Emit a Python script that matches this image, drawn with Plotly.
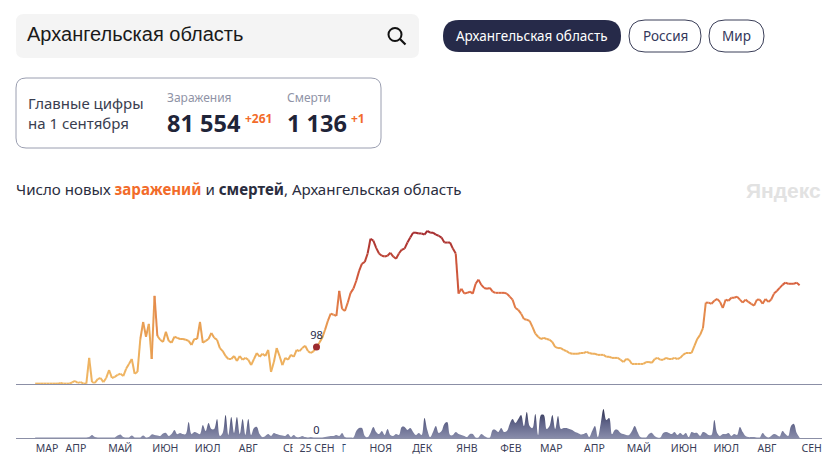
import pandas as pd
import plotly.graph_objects as go
from plotly.colors import sample_colorscale

START_DATE = "2020-03-11"
STEP_DAYS = 2

new_cases = [
    1,1,1,1,1,1,1,1,1,3,1,1,1,4,8,3,5,1,1,69,5,3,13,16,5,16,37,16,19,24,27,21,40,53,66,27,32,119,164,125,
    159,66,233,127,117,111,138,114,109,125,122,119,119,117,114,103,119,119,164,109,114,119,135,122,117,95,87,74,66,66,
    74,61,74,64,69,64,50,66,82,72,80,74,90,32,58,95,74,50,69,64,77,72,90,
    87,95,101,87,82,87,98,109,122,143,167,186,183,180,246,199,193,215,241,252,273,299,318,323,345,384,379,360,345,339,
    337,339,347,337,331,345,355,358,374,387,400,400,398,398,395,405,400,400,395,392,387,374,374,374,358,345,239,252,239,241,
    244,239,265,276,262,254,252,254,244,241,241,241,241,239,231,223,201,196,186,172,170,167,151,133,125,119,122,119,117,111,
    98,95,
    95,90,87,82,80,80,80,82,82,85,82,80,80,77,77,77,72,72,69,69,69,64,58,66,64,53,53,53,53,53,
    58,58,56,66,69,64,64,69,66,66,69,66,69,77,82,82,82,101,119,130,148,215,215,212,220,225,217,201,223,220,
    228,228,231,223,215,223,217,212,207,223,223,212,225,217,223,239,246,254,262,268,265,265,265,268,261,
]

new_deaths = [
    .2,.2,.2,.2,.2,.2,.2,.2,.2,.2,.2,.2,.2,.2,.2,.2,.2,.2,.2,.3,1,.3,.2,.2,.2,.2,.2,.2,.2,.8,
    1.2,.3,.2,.2,.8,.2,.2,.2,.8,.2,.3,1.2,1,.8,.7,1.5,1.7,.7,1.3,2.7,1.3,1.7,1.3,1.3,5.3,1.3,2,1.7,1.3,4.3,
    2.3,5,3,3,6.3,.7,1.7,7.7,1,7,1.7,7,1.3,6.3,1,6.3,1,3.3,3.7,1.3,.3,.7,1.3,.7,1.7,1.3,1,.8,.7,1.3,
    .3,1,.3,
    .3,.7,.3,.2,.3,.2,.2,.2,.2,.3,.5,.7,.7,1,.7,1.7,.3,.2,.2,.2,2.3,3.3,3.3,.7,.3,1.7,3.7,2,1.3,2.3,
    1,3,1,.7,1.3,1,3.7,3.7,2.7,3.3,2,1,1.7,1,6.7,2.7,.3,2,4,1.7,2.3,4.7,5.3,1,1,2,1.3,1,.7,.3,
    1.3,1.3,.2,.2,1.3,.7,.2,.2,2.7,2.7,2,3.3,2,2.3,4.7,6.3,5,6.3,7.7,4,8.7,4,3.3,8,1,7.7,7.7,3,
    4,7.7,3,7.3,
    3,3.3,3.3,3,2.7,2,1.7,1.2,1.3,1.7,.3,2.3,4,.3,4.7,9.7,6,6.7,1.3,2.7,2.7,1.7,1.3,1,1,2.3,4,2,.3,.2,
    .2,1.3,1.7,.7,.2,.2,1.7,2,1.7,1.3,2,1,1.7,1,1.7,.3,2,1.7,1.7,.7,2,1.7,1,1,6,1.7,.7,1.3,1.3,1.7,
    .7,1.3,1,3.7,2,.7,.3,.3,.3,.2,.2,1.7,.7,.2,.7,1.3,1,.5,2.3,1.3,.7,4,4.7,1.7,.2,
]

tick_dates = ["2020-03-11","2020-04-01","2020-05-01","2020-06-01","2020-07-01","2020-08-01","2020-09-01",
              "2020-10-01","2020-11-01","2020-12-01","2021-01-01","2021-02-01","2021-03-01","2021-04-01",
              "2021-05-01","2021-06-01","2021-07-01","2021-08-01","2021-09-01"]
tick_labels = ["МАР","АПР","МАЙ","ИЮН","ИЮЛ","АВГ","СЕН","ОКТ","НОЯ","ДЕК","ЯНВ","ФЕВ","МАР","АПР",
               "МАЙ","ИЮН","ИЮЛ","АВГ","СЕН"]
highlight_date = "2020-09-25"
highlight_label = "25 СЕН"

W, H = 835, 469
DARK = "#262a49"
ORANGE = "#f26b2a"
FONT = "Noto Sans"
SCALE = [[0, "#f0b866"], [0.3, "#eba957"], [0.62, "#dc6640"], [1, "#a32a2e"]]
CASE_MAX = 405

if len(new_cases) != len(new_deaths):
    raise ValueError(f"{len(new_cases)} != {len(new_deaths)}")
dates = pd.date_range(START_DATE, periods=len(new_cases), freq=f"{STEP_DAYS}D")
hl_index = list(dates).index(pd.Timestamp(highlight_date))

px = lambda x: x / W
py = lambda y: 1 - y / H


def rrect(x0, y0, x1, y1, r, fill="rgba(0,0,0,0)", line=None, lw=1):
    X0, X1, Y0, Y1, RX, RY = px(x0), px(x1), py(y0), py(y1), r / W, r / H
    path = (f"M{X0+RX},{Y0} L{X1-RX},{Y0} Q{X1},{Y0} {X1},{Y0-RY} L{X1},{Y1+RY} Q{X1},{Y1} {X1-RX},{Y1} "
            f"L{X0+RX},{Y1} Q{X0},{Y1} {X0},{Y1+RY} L{X0},{Y0-RY} Q{X0},{Y0} {X0+RX},{Y0} Z")
    return dict(type="path", xref="paper", yref="paper", path=path, fillcolor=fill,
                line=dict(color=line or "rgba(0,0,0,0)", width=lw if line else 0), layer="below")


def label(x, y, text, size=12, color=DARK, family=FONT, anchor="left"):
    return dict(xref="paper", yref="paper", x=px(x), y=py(y), text=text, showarrow=False, xanchor=anchor,
                yanchor="middle", align="left", borderpad=0, borderwidth=0,
                font=dict(size=size, color=color, family=family))


fig = go.Figure()

# main line: one short segment per colour step
for i in range(len(dates) - 1):
    mean = (new_cases[i] + new_cases[i + 1]) / 2
    color = sample_colorscale(SCALE, [min(mean / CASE_MAX, 1)])[0]
    fig.add_trace(go.Scatter(x=dates[i:i + 2], y=new_cases[i:i + 2], mode="lines", xaxis="x", yaxis="y",
                             line=dict(color=color, width=2), hoverinfo="skip", showlegend=False))

fig.add_trace(go.Scatter(x=[dates[hl_index]], y=[new_cases[hl_index]], mode="markers+text", xaxis="x", yaxis="y",
                         marker=dict(color="#9c2a2e", size=7), text=[str(new_cases[hl_index])],
                         textposition="top center", textfont=dict(size=11, color=DARK, family=FONT),
                         hoverinfo="skip", showlegend=False))

fig.add_trace(go.Scatter(x=dates, y=new_deaths, mode="lines", xaxis="x2", yaxis="y2", fill="tozeroy",
                         line=dict(width=0, shape="spline", smoothing=1),
                         fillgradient=dict(type="vertical", start=0, stop=10,
                                           colorscale=[[0, "#888caa"], [0.5, "#5f6388"], [1, "#2b2e4c"]]),
                         hoverinfo="skip", showlegend=False))

fig.add_trace(go.Scatter(x=[dates[hl_index]], y=[0.5], mode="text", xaxis="x2", yaxis="y2", text=["0"],
                         textposition="top center", textfont=dict(size=11, color=DARK, family=FONT),
                         hoverinfo="skip", showlegend=False))

x_range = ["2020-02-26 12:00", "2021-09-15 19:00"]
x_domain = [px(16), px(822)]
common_x = dict(type="date", range=x_range, domain=x_domain, showgrid=False, zeroline=False,
                showline=True, linecolor="#8b8fa6", linewidth=1, fixedrange=True)

fig.update_layout(
    width=W, height=H, margin=dict(l=0, r=0, t=0, b=0), paper_bgcolor="white", plot_bgcolor="rgba(0,0,0,0)",
    showlegend=False,
    xaxis=dict(**common_x, anchor="y", showticklabels=False, ticks=""),
    xaxis2=dict(**common_x, anchor="y2", matches="x", tickmode="array", tickvals=tick_dates, ticktext=tick_labels,
                ticks="", ticklabelposition="outside right", tickangle=0,
                tickfont=dict(size=10.5, color="#3a3e58", family=FONT)),
    yaxis=dict(domain=[1 - 384 / H, 1 - 210 / H], range=[0, 460], visible=False, fixedrange=True),
    yaxis2=dict(domain=[1 - 438 / H, 1 - 400 / H], range=[0, 12.67], visible=False, fixedrange=True),
    shapes=[
        rrect(16, 14, 419, 58, 8, fill="#f4f4f4"),
        rrect(443, 20, 621, 52, 16, fill=DARK),
        rrect(629, 20, 701, 52, 16, line="#3a3e58"),
        rrect(709, 20, 764, 52, 16, line="#3a3e58"),
        rrect(16, 78, 381, 148, 10, line="#9a9eb0"),
        dict(type="circle", xref="paper", yref="paper", x0=px(388.5), x1=px(401.5), y0=py(41), y1=py(28),
             line=dict(color="#111111", width=2)),
        dict(type="line", xref="paper", yref="paper", x0=px(400), y0=py(39), x1=px(405.5), y1=py(44.5),
             line=dict(color="#111111", width=2.2)),
        dict(type="rect", xref="paper", yref="paper", x0=px(339), x1=px(342.5), y0=py(455), y1=py(441),
             fillcolor="white", line=dict(width=0), layer="above"),
    ],
    annotations=[
        label(27, 34, "Архангельская область", 20, "#1a1a1a", "Liberation Sans"),
        label(532, 36, "Архангельская область", 13.5, "#ffffff", anchor="center"),
        label(665, 36, "Россия", 13.5, "#33375a", anchor="center"),
        label(736.5, 36, "Мир", 13.5, "#33375a", anchor="center"),
        label(28, 103, "Главные цифры", 15, "#3a3e50"),
        label(28, 123, "на 1 сентября", 15, "#3a3e50"),
        label(167, 98, "Заражения", 12, "#8f93a6"),
        label(287, 98, "Смерти", 12, "#8f93a6"),
        label(167, 123, "<b>81 554</b>", 23.5, "#1f2438"),
        label(287, 123, "<b>1 136</b>", 23.5, "#1f2438"),
        label(245, 118, "<b>+261</b>", 12, ORANGE),
        label(351, 118, "<b>+1</b>", 12, ORANGE),
        label(16, 189, f'Число новых <b><span style="color:{ORANGE}">заражений</span></b> и <b>смертей</b>, Архангельская область',
              15.1, "#2a2d3e"),
        label(746, 190, "<b>Яндекс</b>", 21, "#e2e2e2", "Liberation Sans"),
        dict(xref="x2", yref="paper", x=highlight_date, y=py(447.5), text=highlight_label, showarrow=False,
             xanchor="center", yanchor="middle", bgcolor="white", width=48, height=15, borderpad=0,
             font=dict(size=10.5, color="#3a3e58", family=FONT)),
    ],
)

fig.write_html("out.html", config={"displayModeBar": False}, post_script="document.body.style.margin='0';")
